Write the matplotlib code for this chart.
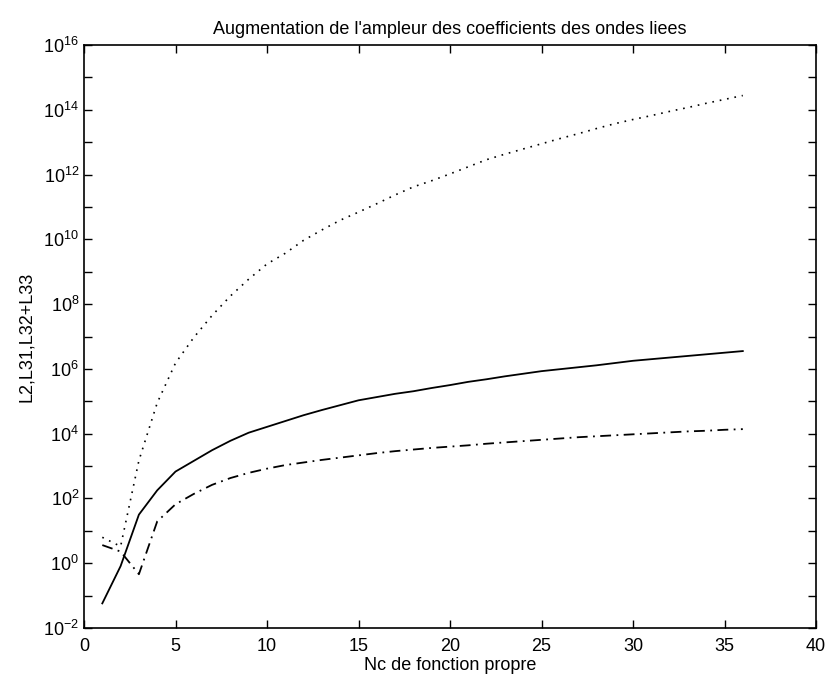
import numpy as np
import matplotlib
matplotlib.use("Agg")
import matplotlib.pyplot as plt
from matplotlib.ticker import FixedLocator, FuncFormatter

plt.rcParams['font.family'] = ['Liberation Sans', 'DejaVu Sans']
plt.rcParams['mathtext.default'] = 'regular'

# eigenfunction index
n = list(range(1, 37))

# log10 of the amplitudes
log_solid = [-1.24, -0.09, 1.50, 2.25, 2.83, 3.16, 3.49, 3.78, 4.03, 4.21,
             4.39, 4.57, 4.73, 4.88, 5.03, 5.13, 5.23, 5.31, 5.41, 5.50,
             5.60, 5.68, 5.77, 5.85, 5.93, 5.99, 6.05, 6.11, 6.18, 6.25,
             6.30, 6.35, 6.40, 6.45, 6.50, 6.55]
log_dotted = [0.80, 0.52, 3.17, 4.95, 6.18, 6.97, 7.65, 8.25, 8.77, 9.24,
              9.57, 9.97, 10.29, 10.59, 10.84, 11.10, 11.37, 11.62, 11.81, 12.02,
              12.24, 12.46, 12.63, 12.79, 12.95, 13.11, 13.26, 13.42, 13.57, 13.70,
              13.82, 13.95, 14.07, 14.20, 14.32, 14.44]
log_dashdot = [0.56, 0.36, -0.34, 1.29, 1.82, 2.14, 2.42, 2.63, 2.79, 2.92,
               3.03, 3.11, 3.19, 3.26, 3.33, 3.40, 3.46, 3.51, 3.56, 3.60,
               3.64, 3.69, 3.73, 3.77, 3.81, 3.85, 3.89, 3.92, 3.95, 3.98,
               4.01, 4.04, 4.07, 4.09, 4.12, 4.14]

title = "Augmentation de l'ampleur des coefficients des ondes liees"
xlabel = "Nc de fonction propre"
ylabel = "L2,L31,L32+L33"
x_ticks = [0, 5, 10, 15, 20, 25, 30, 35, 40]
y_exponents = list(range(-2, 17))

fig = plt.figure(figsize=(8.33, 6.87), dpi=100)
ax = fig.add_axes([84 / 833, 1 - 628 / 687, 732 / 833, 583 / 687])

x = np.array(n)
ax.semilogy(x, 10 ** np.array(log_solid), color='black', linestyle='-', linewidth=1.3)
ax.semilogy(x, 10 ** np.array(log_dotted), color='black', linestyle=(0, (1, 3.5)), linewidth=1.2)
ax.semilogy(x, 10 ** np.array(log_dashdot), color='black', linestyle=(0, (6, 3, 1, 3)), linewidth=1.3)

ax.set_xlim(0, 40)
ax.set_ylim(1e-2, 1e16)
ax.xaxis.set_major_locator(FixedLocator(x_ticks))
ax.yaxis.set_major_locator(FixedLocator([10.0 ** e for e in y_exponents]))
ax.yaxis.set_minor_locator(FixedLocator([]))


def yfmt(v, pos):
    e = int(round(np.log10(v)))
    return r"$10^{%d}$" % e if e % 2 == 0 else ""


ax.yaxis.set_major_formatter(FuncFormatter(yfmt))
ax.tick_params(which='both', direction='in', top=True, right=True, length=6,
               width=1.0, labelsize=13, color='black')
ax.tick_params(axis='x', pad=7)
for s in ax.spines.values():
    s.set_linewidth(1.2)
    s.set_color('black')

ax.set_title(title, fontsize=13, pad=8)
ax.set_xlabel(xlabel, fontsize=13, labelpad=2)
ax.set_ylabel(ylabel, fontsize=13, labelpad=6)

fig.savefig("out.png", dpi=100, facecolor='white')
